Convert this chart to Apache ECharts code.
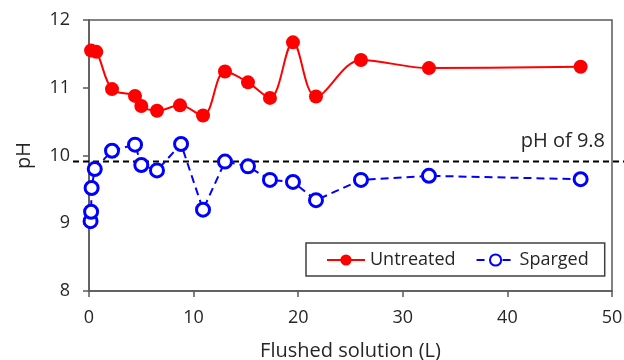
<!DOCTYPE html>
<html>
<head>
<meta charset="utf-8">
<script src="https://cdn.jsdelivr.net/npm/echarts@6/dist/echarts.min.js"></script>
<style>
html,body{margin:0;padding:0;background:#fff;}
#c{width:624px;height:360px;}
</style>
</head>
<body>
<div id="c"></div>
<script>
var untreatedX = [0.2, 0.7, 2.2, 4.4, 5.0, 6.5, 8.7, 10.9, 13.0, 15.2, 17.3, 19.5, 21.7, 26.0, 32.5, 47.0];
var untreatedY = [11.55, 11.53, 10.98, 10.88, 10.73, 10.66, 10.74, 10.59, 11.24, 11.08, 10.85, 11.67, 10.87, 11.41, 11.29, 11.31];
var spargedX = [0.15, 0.2, 0.25, 0.55, 2.2, 4.4, 5.0, 6.5, 8.8, 10.9, 13.0, 15.2, 17.3, 19.5, 21.7, 26.0, 32.5, 47.0];
var spargedY = [9.03, 9.17, 9.52, 9.80, 10.07, 10.16, 9.86, 9.78, 10.17, 9.20, 9.91, 9.84, 9.64, 9.61, 9.34, 9.64, 9.70, 9.65];
var refLineY = 9.91;
var refLabel = 'pH of 9.8';
var xTitle = 'Flushed solution (L)';
var yTitle = 'pH';

function pairs(xs, ys){ return xs.map(function(x,i){ return [x, ys[i]]; }); }

var FONT = '"Open Sans", "Noto Sans", sans-serif';
var TXT = '#262626';
var AX = '#595959';

var chart = echarts.init(document.getElementById('c'), null, {renderer:'canvas'});
var option = {
  animation: false,
  backgroundColor: '#fff',
  textStyle: {fontFamily: FONT},
  grid: {left: 89, right: 12, top: 20, bottom: 69, show: true, borderColor: AX, borderWidth: 1.5,
         containLabel: false, outerBoundsMode: 'none'},
  legend: {
    left: 306, top: 243,
    padding: [8, 16, 7, 20],
    borderColor: '#404040', borderWidth: 1.5,
    itemWidth: 38, itemHeight: 14, itemGap: 20,
    textStyle: {fontFamily: FONT, fontSize: 18, color: TXT},
    data: ['Untreated', 'Sparged']
  },
  xAxis: {
    type: 'value', min: 0, max: 50, interval: 10,
    name: xTitle, nameLocation: 'middle', nameGap: 50,
    nameTextStyle: {fontFamily: FONT, fontSize: 20, color: TXT},
    axisLine: {show: true, lineStyle: {color: AX, width: 1.5}},
    axisTick: {show: true, inside: false, length: 6, lineStyle: {color: AX, width: 1.5}},
    axisLabel: {fontFamily: FONT, fontSize: 18, color: TXT, margin: 18},
    splitLine: {show: false}
  },
  yAxis: {
    type: 'value', min: 8, max: 12, interval: 1,
    name: yTitle, nameLocation: 'middle', nameGap: 55, nameRotate: 90,
    nameTextStyle: {fontFamily: FONT, fontSize: 20, color: TXT},
    axisLine: {show: true, lineStyle: {color: AX, width: 1.5}},
    axisTick: {show: true, inside: false, length: 6, lineStyle: {color: AX, width: 1.5}},
    axisLabel: {fontFamily: FONT, fontSize: 18, color: TXT, margin: 19},
    splitLine: {show: false}
  },
  series: [
    {
      name: 'Untreated', type: 'line', smooth: 0.35,
      data: pairs(untreatedX, untreatedY),
      symbol: 'circle', symbolSize: 14,
      itemStyle: {color: '#ff0000'},
      lineStyle: {color: '#ff0000', width: 2},
      z: 3
    },
    {
      name: 'Sparged', type: 'line', smooth: false,
      data: pairs(spargedX, spargedY),
      symbol: 'circle', symbolSize: 13,
      itemStyle: {color: '#ffffff', borderColor: '#0000ff', borderWidth: 3},
      lineStyle: {color: '#0000ff', width: 2, type: [8, 5]},
      z: 2
    }
  ]
};
chart.setOption(option);
var py = chart.convertToPixel({yAxisIndex: 0}, refLineY);
chart.setOption({
  graphic: [
    {type: 'line', shape: {x1: 73, y1: py, x2: 624, y2: py}, style: {stroke: '#000', lineWidth: 2, lineDash: [6, 4]}, z: 1},
    {type: 'text', right: 19, top: py - 30, style: {text: refLabel, font: '20px ' + FONT, fill: TXT}}
  ]
});
</script>
</body>
</html>
